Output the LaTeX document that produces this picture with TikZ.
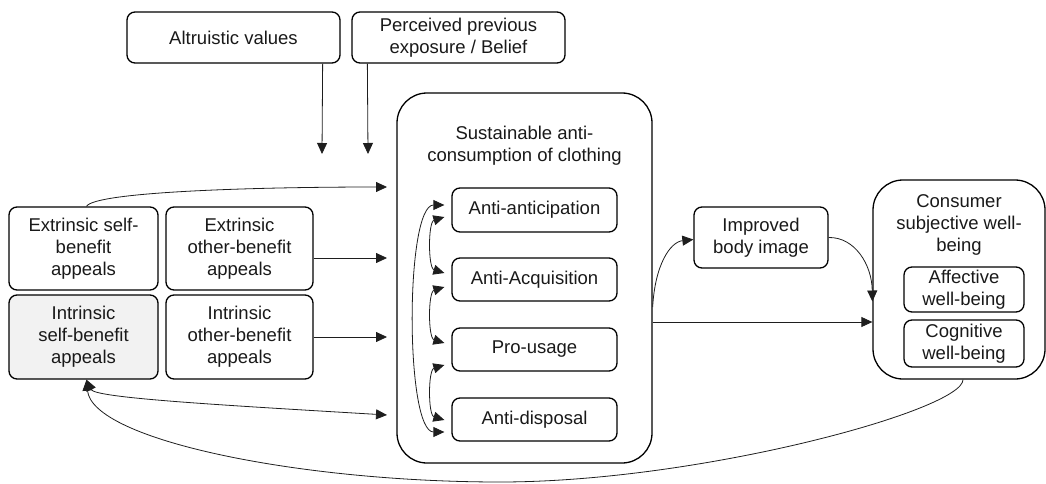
\documentclass[tikz,border=0pt]{standalone}
\usepackage{fontspec}
\setmainfont{Liberation Sans}
\usetikzlibrary{arrows.meta,calc}
\definecolor{lightfill}{RGB}{242,242,242}
\definecolor{inkline}{RGB}{30,30,30}
\begin{document}
\begin{tikzpicture}[x=1pt,y=-1pt,
  box/.style={draw=black, line width=1.3pt, rounded corners=8pt, align=center,
    inner sep=0pt, font=\fontsize{18.5}{22}\selectfont, text=black!90},
  bigbox/.style={box, rounded corners=30pt},
  label/.style={align=center, inner sep=0pt, font=\fontsize{18.5}{22}\selectfont, text=black!90},
  conn/.style={draw=inkline, line width=0.8pt, -{Triangle[length=11pt,width=10pt]}},
  biconn/.style={draw=inkline, line width=0.8pt,
    {Triangle[length=11pt,width=10pt]}-{Triangle[length=11pt,width=10pt]}}
]
\useasboundingbox (0,0) rectangle (1046,484);

% moderators
\node[box, minimum width=213pt, minimum height=51pt] (alt) at (233.5,37.5) {Altruistic values};
\node[box, minimum width=213pt, minimum height=51pt] (perc) at (458.5,37.5) {Perceived previous\\exposure / Belief};

% appeal types
\node[box, minimum width=149pt, minimum height=83pt] (extself) at (83.5,248.5) {Extrinsic self-\\benefit\\appeals};
\node[box, minimum width=147pt, minimum height=83pt] (extother) at (239.5,248.5) {Extrinsic\\other-benefit\\appeals};
\node[box, fill=lightfill, minimum width=149pt, minimum height=84pt] (intself) at (83.5,337) {Intrinsic\\self-benefit\\appeals};
\node[box, minimum width=147pt, minimum height=84pt] (intother) at (239.5,337) {Intrinsic\\other-benefit\\appeals};

% sustainable anti-consumption block
\node[bigbox, minimum width=255pt, minimum height=370pt] (sac) at (524.5,278) {};
\node[label] (sactitle) at (524.5,146) {Sustainable anti-\\consumption of clothing};
\node[box, minimum width=165pt, minimum height=44pt] (aa) at (534.5,210) {Anti-anticipation};
\node[box, minimum width=165pt, minimum height=43pt] (aq) at (534.5,279.5) {Anti-Acquisition};
\node[box, minimum width=165pt, minimum height=43pt] (pu) at (534.5,349.5) {Pro-usage};
\node[box, minimum width=165pt, minimum height=43pt] (ad) at (534.5,419.5) {Anti-disposal};

% outcomes
\node[box, minimum width=134pt, minimum height=61pt] (body) at (761,237.5) {Improved\\body image};
\node[bigbox, minimum width=172pt, minimum height=199pt] (csw) at (959,279.5) {};
\node[label] (cswtitle) at (959,225) {Consumer\\subjective well-\\being};
\node[box, minimum width=120pt, minimum height=45pt] (aff) at (964,289.5) {Affective\\well-being};
\node[box, minimum width=120pt, minimum height=47pt] (cog) at (964,343.5) {Cognitive\\well-being};

% free arrow ends
\coordinate (d1) at (322,154);
\coordinate (d2) at (368,154);
\coordinate (in1) at (387,187);
\coordinate (in2) at (387,258);
\coordinate (in3) at (387,337);
\coordinate (in4) at (387,415);

% moderator arrows
\draw[conn] ($(alt.south east)+(-18,0)$) -- (d1);
\draw[conn] ($(perc.south west)+(16,0)$) -- (d2);

% appeals into the block
\draw[conn] ($(extself.north)+(3,0)$) .. controls (95,192) and (250,187) .. (in1);
\draw[conn] (extother.east |- in2) -- (in2);
\draw[conn] (intother.east |- in3) -- (in3);
\draw[biconn] ($(intself.south)+(3,0)$) .. controls (95,398) and (220,405) .. (in4);

% links between the anti-consumption stages
\draw[biconn] ($(aa.west)+(-7,-5)$) .. controls (405,205) and (405,432) .. ($(ad.west)+(-7,12.5)$);
\draw[biconn] ($(aa.west)+(-7,7)$) .. controls (428,222) and (428,268) .. ($(aq.west)+(-7,-6.5)$);
\draw[biconn] ($(aq.west)+(-7,7.5)$) .. controls (428,292) and (428,338) .. ($(pu.west)+(-7,-6.5)$);
\draw[biconn] ($(pu.west)+(-7,15.5)$) .. controls (428,370) and (428,415) .. ($(ad.west)+(-7,0.5)$);

% outcome arrows
\draw[conn] ($(sac.east)+(0,29)$) .. controls (655,265) and (670,242) .. ($(body.west)+(0,2)$);
\draw[conn] ($(sac.east)+(0,44)$) -- ($(csw.west)+(0,42.5)$);
\draw[conn] (body.east) .. controls (855,237) and (872,265) .. ($(csw.west)+(0,22)$);

% feedback loop
\draw[conn] ($(csw.south)+(4,0)$) .. controls (963,410) and (700,482) .. (500,482)
  .. controls (300,482) and (92,440) .. ($(intself.south)+(3,0)$);
\end{tikzpicture}
\end{document}
